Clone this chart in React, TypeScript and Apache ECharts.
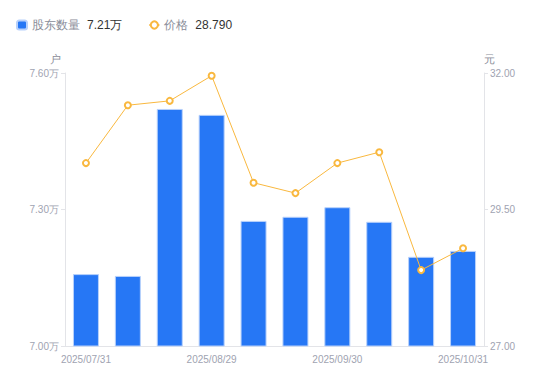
import React, { useEffect, useRef } from "react";
import * as echarts from "echarts";

const categories = [
  "2025/07/31", "2025/08/08", "2025/08/20", "2025/08/29", "2025/09/10",
  "2025/09/19", "2025/09/30", "2025/10/10", "2025/10/20", "2025/10/31",
];
const holders = [7.158, 7.154, 7.521, 7.508, 7.275, 7.284, 7.305, 7.273, 7.196, 7.209];
const prices = [30.35, 31.41, 31.49, 31.95, 29.99, 29.80, 30.35, 30.55, 28.39, 28.79];
const leftTicks = [7.0, 7.3, 7.6];
const rightTicks = [27, 29.5, 32];

export default function App() {
  const ref = useRef<HTMLDivElement>(null);
  useEffect(() => {
    const chart = echarts.init(ref.current!, undefined, { renderer: "svg" });
    const lastH = holders[holders.length - 1];
    const lastP = prices[prices.length - 1];
    chart.setOption({
      animation: false,
      legend: {
        left: 3,
        top: 6,
        itemWidth: 10,
        itemHeight: 9,
        itemGap: 26,
        data: [
          { name: "股东数量", icon: "roundRect" },
          { name: "价格" },
        ],
        formatter: (name: string) =>
          name === "股东数量"
            ? `{n|${name}}{v|${lastH.toFixed(2)}万}`
            : `{n|${name}}{v|${lastP.toFixed(3)}}`,
        textStyle: {
          rich: {
            n: { color: "#8a8d99", fontSize: 12, padding: [0, 7, 0, 0] },
            v: { color: "#333", fontSize: 12 },
          },
        },
      },
      grid: { left: 57, right: 58, top: 65, bottom: 27 },
      xAxis: {
        type: "category",
        data: categories,
        axisLine: { lineStyle: { color: "#e3e4e8" } },
        axisTick: { show: false },
        axisLabel: {
          color: "#a0a3b1",
          fontSize: 10,
          interval: (i: number) => i % 3 === 0,
        },
      },
      yAxis: [
        {
          type: "value",
          name: "户",
          nameGap: 9,
          nameTextStyle: { color: "#8a8d99", fontSize: 11, padding: [0, 0, 0, -20] },
          min: leftTicks[0],
          max: leftTicks[2],
          interval: 0.3,
          splitLine: { show: false },
          axisLine: { show: true, lineStyle: { color: "#e3e4e8" } },
          axisTick: { show: true, length: 4, lineStyle: { color: "#e3e4e8" } },
          axisLabel: {
            color: "#a0a3b1",
            fontSize: 10,
            margin: 6,
            formatter: (v: number) => v.toFixed(2) + "万",
          },
        },
        {
          type: "value",
          name: "元",
          nameGap: 9,
          nameTextStyle: { color: "#8a8d99", fontSize: 11, padding: [0, 0, 0, 10] },
          min: rightTicks[0],
          max: rightTicks[2],
          interval: 2.5,
          splitLine: { show: false },
          axisLine: { show: true, lineStyle: { color: "#e3e4e8" } },
          axisTick: { show: true, length: 4, lineStyle: { color: "#e3e4e8" } },
          axisLabel: {
            color: "#a0a3b1",
            fontSize: 10,
            margin: 6,
            formatter: (v: number) => v.toFixed(2),
          },
        },
      ],
      series: [
        {
          name: "股东数量",
          type: "bar",
          data: holders,
          barWidth: 26,
          itemStyle: { color: "#2677f5", borderColor: "#b8d1fb", borderWidth: 1 },
        },
        {
          name: "价格",
          type: "line",
          yAxisIndex: 1,
          data: prices,
          symbol: "emptyCircle",
          symbolSize: 6,
          lineStyle: { color: "#f9b83f", width: 1 },
          itemStyle: { color: "#f9b83f", borderWidth: 2 },
        },
      ],
    });
    return () => chart.dispose();
  }, []);
  return <div ref={ref} style={{ width: 534, height: 365 }} />;
}
